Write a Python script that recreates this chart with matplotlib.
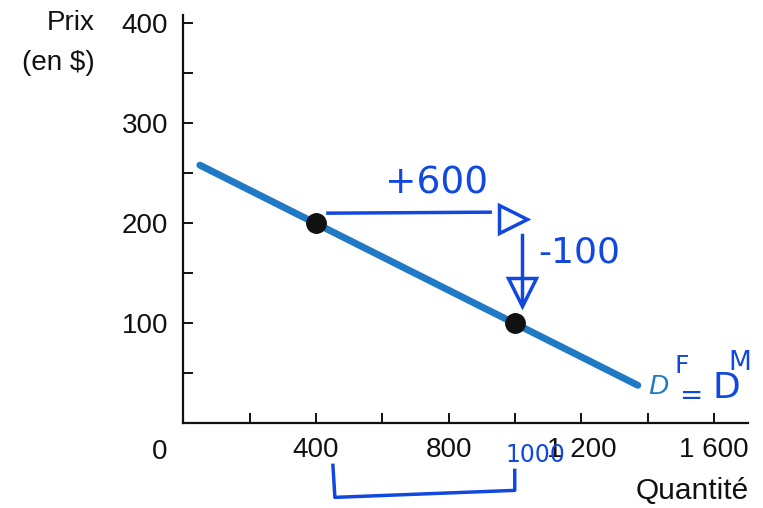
import matplotlib
matplotlib.use("Agg")
import matplotlib.pyplot as plt

# ---- data ----
demand_qty = [50, 1370]
demand_price = [258, 38]
point_qty = [400, 1000]
point_price = [200, 100]
x_major = [400, 800, 1200, 1600]
x_labels = ["400", "800", "1 200", "1 600"]
x_minor = [200, 600, 1000, 1400]
y_major = [100, 200, 300, 400]
y_labels = ["100", "200", "300", "400"]
y_minor = [50, 150, 250, 350]

LINE_BLUE = "#1f79c4"
PEN = "#1148e0"
INK = "#111111"
FONT = "Liberation Sans"
HAND = "DejaVu Sans"

fig = plt.figure(figsize=(7.63, 5.08), dpi=100)
ax = fig.add_axes([0.2402, 0.1667, 0.7401, 0.8037])
ax.set_xlim(0, 1702)
ax.set_ylim(0, 408)

for s in ["top", "right"]:
    ax.spines[s].set_visible(False)
for s in ["left", "bottom"]:
    ax.spines[s].set_linewidth(1.6)
    ax.spines[s].set_color(INK)

ax.set_xticks(x_major)
ax.set_xticklabels(x_labels)
ax.set_xticks(x_minor, minor=True)
ax.set_yticks(y_major)
ax.set_yticklabels(y_labels)
ax.set_yticks(y_minor, minor=True)
ax.tick_params(axis="both", which="both", direction="in", length=7.5,
               width=1.4, color=INK, labelsize=20, labelcolor=INK)
ax.tick_params(axis="x", which="both", pad=10)
ax.tick_params(axis="y", which="both", pad=11)
for lab in ax.get_xticklabels() + ax.get_yticklabels():
    lab.set_fontfamily(FONT)

# demand line and points
ax.plot(demand_qty, demand_price, color=LINE_BLUE, lw=5, solid_capstyle="round",
        zorder=3, clip_on=False)
ax.plot(point_qty, point_price, "o", color=INK, ms=14, zorder=4, clip_on=False)

# printed labels
ax.text(1432, 36, "D", color=LINE_BLUE, fontsize=20, fontstyle="italic",
        family=FONT, ha="center", va="center", clip_on=False)
fig.text(95 / 763, 1 - 23 / 508, "Prix", ha="right", va="center",
         fontsize=20, family=FONT, color=INK)
fig.text(95 / 763, 1 - 63 / 508, "(en $)", ha="right", va="center",
         fontsize=20, family=FONT, color=INK)
fig.text(160 / 763, 1 - 452 / 508, "0", ha="center", va="center",
         fontsize=20, family=FONT, color=INK)
fig.text(749 / 763, 1 - 491 / 508, "Quantité", ha="right", va="center",
         fontsize=21.5, family=FONT, color=INK)

# handwritten annotations
ax.text(762, 240, "+600", color=PEN, fontsize=27, family=HAND,
        ha="center", va="center", clip_on=False)
ax.plot([436, 925], [210, 211], color=PEN, lw=2.5, clip_on=False)
ax.plot([994], [204], marker=">", ms=20, mfc="none", mec=PEN, mew=2.5,
        clip_on=False)
ax.plot([1020, 1020], [188, 123], color=PEN, lw=2.5, clip_on=False)
ax.plot([1021], [131], marker="v", ms=20, mfc="none", mec=PEN, mew=2.5,
        clip_on=False)
ax.text(1070, 171, "-100", color=PEN, fontsize=26, family=HAND,
        ha="left", va="center", clip_on=False)
ax.text(1060, -32, "1000", color=PEN, fontsize=17, family=HAND,
        ha="center", va="center", clip_on=False)
ax.plot([451, 457, 999, 999], [-42, -74, -67, -47], color=PEN, lw=2.5,
        clip_on=False)
ax.text(715, -98, "+600", color=PEN, fontsize=22, family=HAND,
        ha="center", va="center", clip_on=False)
ax.text(1503, 57, "F", color=PEN, fontsize=18, family=HAND,
        ha="center", va="center", clip_on=False)
ax.text(1533, 27, "=", color=PEN, fontsize=20, family=HAND,
        ha="center", va="center", clip_on=False)
ax.text(1636, 35, "D", color=PEN, fontsize=26, family=HAND,
        ha="center", va="center", clip_on=False)
ax.text(1678, 60, "M", color=PEN, fontsize=19, family=HAND,
        ha="center", va="center", clip_on=False)

fig.savefig("out.png", dpi=100)
